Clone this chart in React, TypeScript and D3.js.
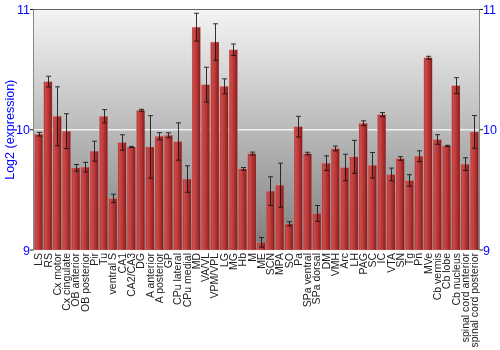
import React from "react";
import * as d3 from "d3";

const categories = ["LS","RS","Cx motor","Cx cingulate","OB anterior","OB posterior","Pir","Tu","ventral S","CA1","CA2/CA3","DG","A anterior","A posterior","GP","CPu lateral","CPu medial","MD","VA/VL","VPM/VPL","LG","MG","Hb","M","ME","SCN","MPA","SO","Pa","SPa ventral","SPa dorsal","DM","VMH","Arc","LH","PAG","SC","IC","VTA","SN","Tg","Pn","MVe","Cb vermis","Cb lobe","Cb nucleus","spinal cord anterior","spinal cord posterior"];
const values = [9.963,10.40,10.112,9.988,9.683,9.689,9.822,10.112,9.429,9.894,9.857,10.162,9.857,9.946,9.954,9.902,9.59,10.853,10.375,10.729,10.361,10.665,9.675,9.802,9.064,9.49,9.539,9.218,10.026,9.802,9.304,9.722,9.844,9.686,9.775,10.054,9.705,10.126,9.628,9.761,9.578,9.78,10.599,9.919,9.866,10.367,9.714,9.982];
const errors = [0.015,0.045,0.245,0.145,0.028,0.04,0.083,0.055,0.035,0.064,0.005,0.008,0.26,0.03,0.02,0.155,0.11,0.116,0.145,0.152,0.062,0.048,0.011,0.012,0.04,0.119,0.183,0.017,0.086,0.011,0.066,0.061,0.02,0.11,0.137,0.02,0.106,0.017,0.053,0.015,0.048,0.045,0.012,0.04,0.005,0.066,0.053,0.136];
const yTicks = [9, 10, 11];

export default function App() {
  const left = 33.5, right = 479.5, top = 9.5, bottom = 250;
  const x = d3.scaleBand<string>().domain(categories).range([left + 0.5, right - 0.5]).paddingInner(0.1).paddingOuter(0.05);
  const y = d3.scaleLinear().domain([9, 11]).range([bottom, top]);
  const font = "'Liberation Sans', Arial, sans-serif";
  const bw = x.bandwidth();
  return (
    <div style={{ position: "fixed", left: 0, top: 0 }}>
      <svg width={500} height={350} style={{ display: "block" }}>
        <defs>
          <linearGradient id="bg" x1="0" y1="0" x2="0" y2="1">
            <stop offset="0" stopColor="#f4f4f4" />
            <stop offset="0.5" stopColor="#bababa" />
            <stop offset="1" stopColor="#7e7e7e" />
          </linearGradient>
          <linearGradient id="bar" x1="0" y1="0" x2="1" y2="0">
            <stop offset="0" stopColor="#a62c2c" />
            <stop offset="0.18" stopColor="#cc4a4a" />
            <stop offset="0.55" stopColor="#b73636" />
            <stop offset="0.85" stopColor="#992424" />
            <stop offset="1" stopColor="#6c1515" />
          </linearGradient>
        </defs>
        <rect x={left} y={top} width={right - left} height={bottom - top} fill="url(#bg)" />
        <line x1={left} x2={right} y1={y(10)} y2={y(10)} stroke="#f0f0f0" strokeWidth={1.5} />
        {categories.map((c, i) => {
          const x0 = x(c) as number;
          return (
            <rect key={c} x={x0} y={y(values[i])} width={bw} height={bottom - y(values[i])}
              fill="url(#bar)" stroke="rgba(240,170,170,0.45)" strokeWidth={0.6} />
          );
        })}
        {categories.map((c, i) => {
          const cx = Math.round((x(c) as number) + bw / 2) + 0.5;
          const y1 = y(values[i] + errors[i]);
          const y2 = y(values[i] - errors[i]);
          return (
            <g key={c} stroke="#111" strokeWidth={1} opacity={0.85}>
              <line x1={cx} x2={cx} y1={y1} y2={y2} />
              <line x1={cx - 2.5} x2={cx + 2.5} y1={y1} y2={y1} />
              <line x1={cx - 2.5} x2={cx + 2.5} y1={y2} y2={y2} />
            </g>
          );
        })}
        <line x1={left} x2={right} y1={top} y2={top} stroke="#666" strokeWidth={1} />
        <line x1={left} x2={left} y1={top} y2={bottom} stroke="#888" strokeWidth={1} />
        <line x1={right} x2={right} y1={top} y2={bottom} stroke="#888" strokeWidth={1} />
        {yTicks.map((t) => (
          <g key={t}>
            <line x1={left - 3.5} x2={left} y1={y(t)} y2={y(t)} stroke="#222" />
            <line x1={right} x2={right + 3.5} y1={y(t)} y2={y(t)} stroke="#222" />
            <text x={30} y={y(t)} dy="0.36em" textAnchor="end" fill="#0000ff" fontFamily={font} fontSize={12.5}>{t}</text>
            <text x={483} y={y(t)} dy="0.36em" textAnchor="start" fill="#0000ff" fontFamily={font} fontSize={12.5}>{t}</text>
          </g>
        ))}
        <text transform={`translate(13.5,${(top + bottom) / 2}) rotate(-90)`} textAnchor="middle" fill="#0000ff" fontFamily={font} fontSize={12.5}>Log2 (expression)</text>
        {categories.map((c) => {
          const cx = (x(c) as number) + bw / 2;
          return (
            <text key={c} transform={`translate(${cx},${bottom + 3}) rotate(-90)`} dy="0.35em" textAnchor="end"
              fill="#222" fontFamily={font} fontSize={10.5}>{c}</text>
          );
        })}
      </svg>
    </div>
  );
}
